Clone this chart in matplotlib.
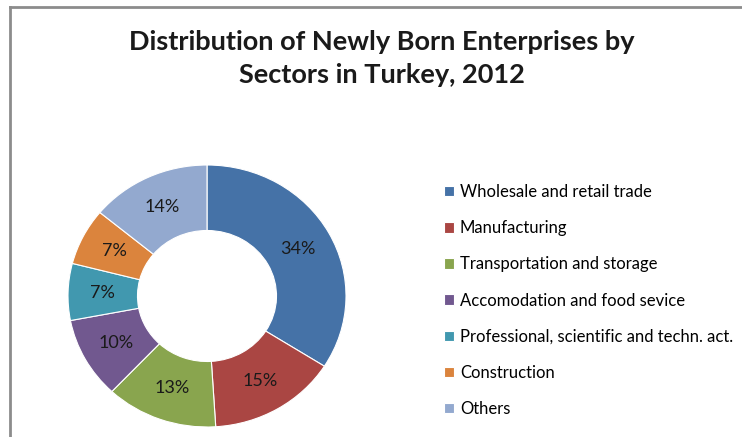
import matplotlib.pyplot as plt
from matplotlib.lines import Line2D

# data
sectors = ['Wholesale and retail trade', 'Manufacturing', 'Transportation and storage',
           'Accomodation and food sevice', 'Professional, scientific and techn. act.',
           'Construction', 'Others']
shares = [34, 15, 13, 10, 7, 7, 14]
colors = ['#4572A7', '#AA4643', '#89A54E', '#71588F', '#4198AF', '#DB843D', '#93A9CF']

plt.rcParams['font.family'] = ['Lato', 'DejaVu Sans']

W, H = 742, 437
fig = plt.figure(figsize=(W / 100, H / 100), dpi=100)
fig.patch.set_facecolor('white')

# chart border (left and top visible)
fig.add_artist(Line2D([9.5 / W, 9.5 / W], [0, 1 - 6.5 / H], color='#8c8c8c', lw=2,
                      transform=fig.transFigure))
fig.add_artist(Line2D([9.5 / W, 1], [1 - 6.5 / H, 1 - 6.5 / H], color='#8c8c8c', lw=2,
                      transform=fig.transFigure))

fig.text(382 / W, 1 - 42 / H, 'Distribution of Newly Born Enterprises by',
         ha='center', va='center', fontsize=19.5, fontweight='bold', color='#1a1a1a')
fig.text(382 / W, 1 - 75 / H, 'Sectors in Turkey, 2012',
         ha='center', va='center', fontsize=19.5, fontweight='bold', color='#1a1a1a')

# donut (slightly wider than tall, like the source)
ax = fig.add_axes([68 / W, 1 - 427 / H, 278 / W, 262 / H])
wedges, _, autotexts = ax.pie(shares, colors=colors, startangle=90, counterclock=False,
                              autopct='%1.0f%%', pctdistance=0.75,
                              wedgeprops=dict(width=0.5, edgecolor='white', linewidth=0.8),
                              textprops=dict(fontsize=13, color='#1a1a1a'))
ax.set_aspect('auto')
ax.set_xlim(-1, 1)
ax.set_ylim(-1, 1)

fig.legend(wedges, sectors, loc='upper left', bbox_to_anchor=(444 / W, 1 - 184 / H),
           frameon=False, fontsize=12, handlelength=0.6, handleheight=0.6,
           handletextpad=0.35, labelspacing=1.21, borderpad=0, borderaxespad=0)

fig.savefig('out.png', dpi=100, facecolor='white')
